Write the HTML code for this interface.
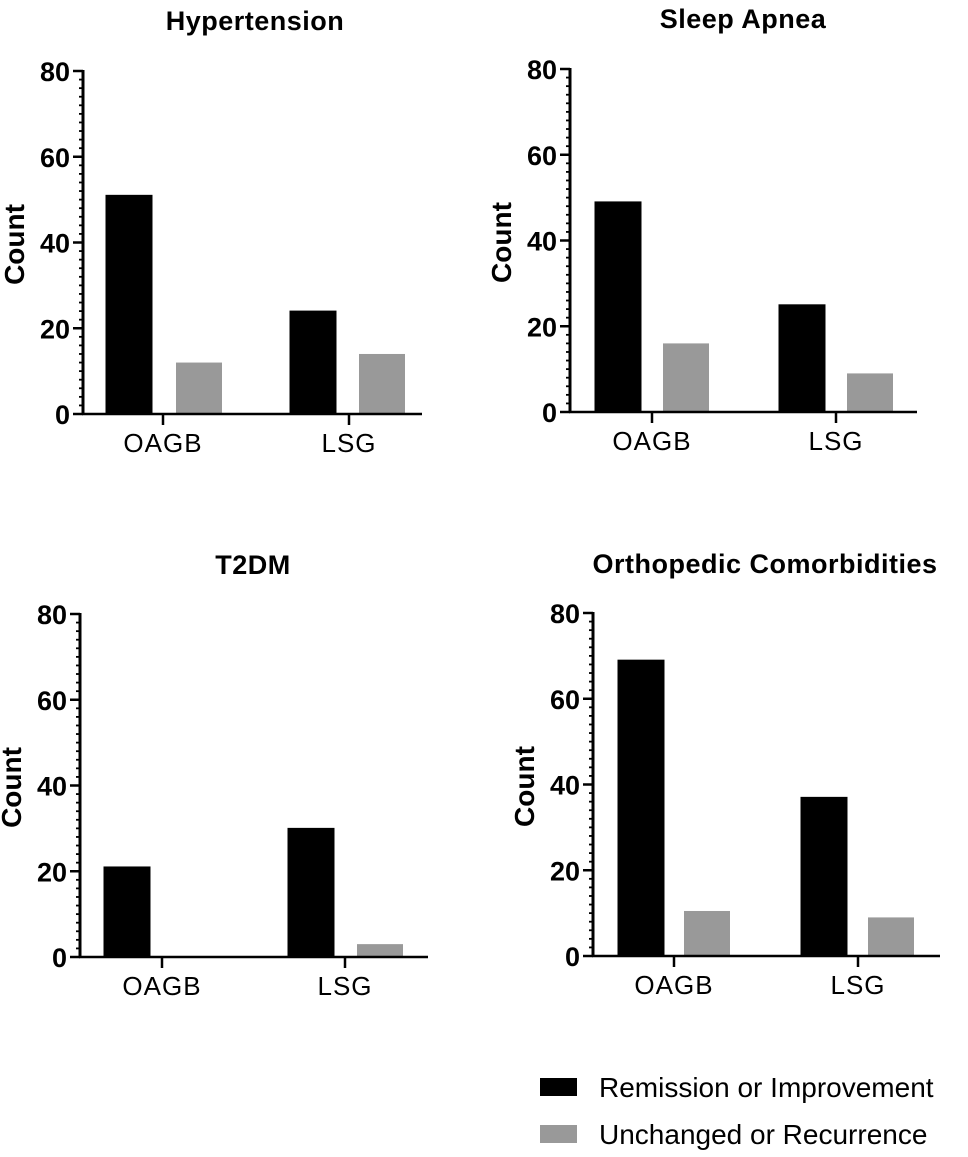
<!DOCTYPE html>
<html><head><meta charset="utf-8">
<style>
html,body{margin:0;padding:0;background:#fff;}
svg{display:block;font-family:"Liberation Sans",Arial,sans-serif;}
</style></head>
<body>
<svg id="fig" width="968" height="1157" viewBox="0 0 968 1157">
  <g>
    <g>
      <rect x="540" y="1078" width="37" height="18" fill="#000"/>
      <text x="599" y="1097" font-size="28" fill="#000">Remission or Improvement</text>
    </g>
    <g>
      <rect x="540" y="1125" width="37" height="18" fill="#999"/>
      <text x="599" y="1144" font-size="28" fill="#000">Unchanged or Recurrence</text>
    </g>
  </g>
</svg>
<script>
const categories = ["OAGB", "LSG"];
const panelTitles = ["Hypertension", "Sleep Apnea", "T2DM", "Orthopedic Comorbidities"];
const remission = [[51, 24], [49, 25], [21, 30], [69, 37]];
const unchanged = [[12, 14], [16, 9], [0, 3], [10.5, 9]];
const yTicks = [0, 20, 40, 60, 80];
const yMax = 80;

const layout = [
  {ax:83, y0:414, y80:71, xEnd:422, cat:[163,349], bar:[[106,176],[290,359]], tx:255, ty:30},
  {ax:570, y0:412, y80:69, xEnd:917, cat:[652,836], bar:[[595,663],[779,847]], tx:743, ty:28},
  {ax:80, y0:957, y80:614, xEnd:428, cat:[162,345], bar:[[104,174],[288,357]], tx:253, ty:574},
  {ax:593, y0:956, y80:613, xEnd:940, cat:[674,858], bar:[[618,684],[801,868]], tx:765, ty:573}
];
const barW = 46;
const NS = "http://www.w3.org/2000/svg";
const svg = document.getElementById('fig');
function mk(tag, attrs, parent){
  const e = document.createElementNS(NS, tag);
  for (const k in attrs) e.setAttribute(k, attrs[k]);
  parent.appendChild(e);
  return e;
}
layout.forEach((L, p) => {
  const yS = v => L.y0 - (v / yMax) * (L.y0 - L.y80);
  const g = mk('g', {}, svg);
  
  
  const t = mk('text', {x:L.tx, y:L.ty, 'text-anchor':'middle', 'font-size':27, 'font-weight':'bold', 'letter-spacing':'0.5'}, g);
  t.textContent = panelTitles[p];
  
  
  categories.forEach((c, i) => {
    const vals = [remission[p][i], unchanged[p][i]];
    const cols = ['#000', '#999'];
    vals.forEach((v, s) => {
      const x = L.bar[i][s];
      const r = mk('rect', {x:x, y:yS(v), width:barW, height:Math.max(0, L.y0 - yS(v)), fill:cols[s]}, g);
      if (s === 0) { r.setAttribute('stroke', '#000'); r.setAttribute('stroke-width', '1'); }
      
      
    });
    mk('line', {x1:L.cat[i], x2:L.cat[i], y1:L.y0, y2:L.y0 + 11, stroke:'#000', 'stroke-width':2.5}, g);
    const ct = mk('text', {x:L.cat[i], y:L.y0 + 38, 'text-anchor':'middle', 'font-size':26, 'letter-spacing':'1'}, g);
    ct.textContent = c;
    
    
  });
  const ya = mk('g', {}, g);
  
  
  for (let v = 0; v <= yMax; v += 2) {
    const major = v % 20 === 0;
    mk('line', {x1:L.ax - (major ? 10 : 4), x2:L.ax, y1:yS(v), y2:yS(v), stroke:'#000', 'stroke-width':major ? 2.5 : 1.8}, ya);
  }
  yTicks.forEach(v => {
    const tl = mk('text', {x:L.ax - 13, y:yS(v) + 10, 'text-anchor':'end', 'font-size':27, 'font-weight':'bold'}, ya);
    tl.textContent = v;
    
    
  });
  mk('line', {x1:L.ax, x2:L.ax, y1:L.y80 - 1, y2:L.y0 + 1, stroke:'#000', 'stroke-width':3}, ya);
  const xa = mk('line', {x1:L.ax - 1, x2:L.xEnd, y1:L.y0, y2:L.y0, stroke:'#000', 'stroke-width':2.5}, g);
  
  
  const cy = (L.y0 + L.y80) / 2 + 2;
  const yx = L.ax - 59;
  const yt = mk('text', {x:yx, y:cy, 'text-anchor':'middle', 'font-size':28, 'font-weight':'bold', transform:'rotate(-90 ' + yx + ' ' + cy + ')'}, g);
  yt.textContent = 'Count';
  
  
});
</script>
</body></html>
